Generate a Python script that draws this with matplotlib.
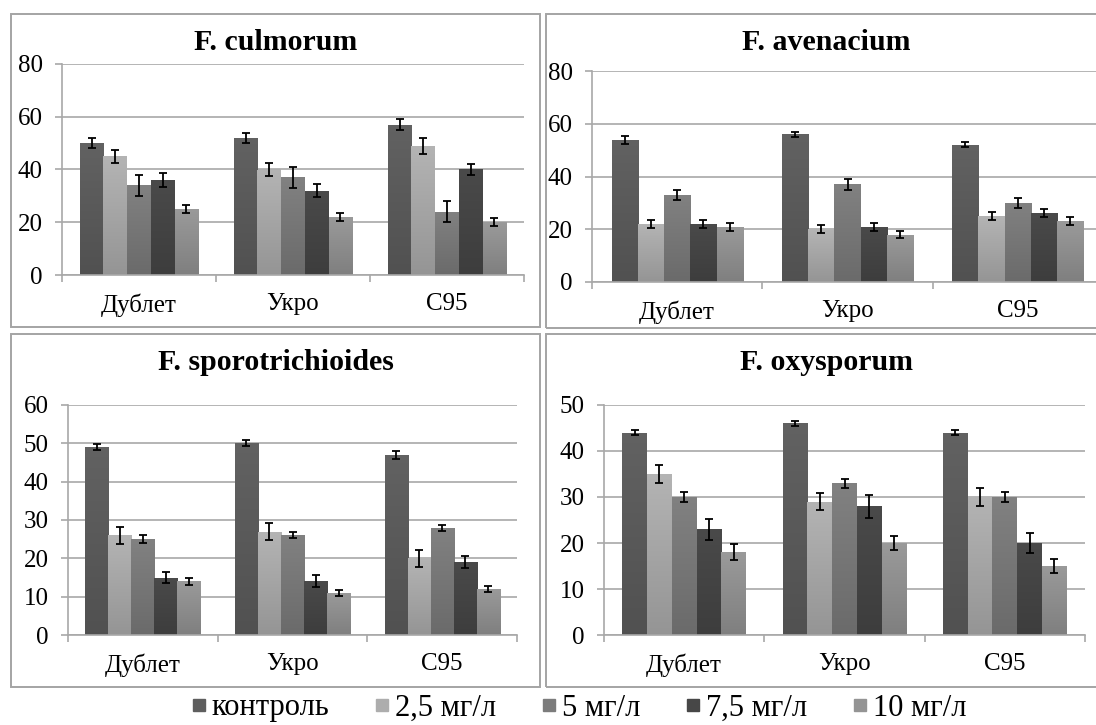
import matplotlib
matplotlib.use("Agg")
import matplotlib.pyplot as plt
import numpy as np
from matplotlib.lines import Line2D
from matplotlib.patches import Rectangle

plt.rcParams["font.family"] = ["Liberation Serif", "DejaVu Serif"]

# ---- data -------------------------------------------------------------
varieties = ["Дублет", "Укро", "С95"]
doses = ["контроль", "2,5 мг/л", "5 мг/л", "7,5 мг/л", "10 мг/л"]

culmorum_vals = [[50, 45, 34, 36, 25],
                 [52, 40, 37, 32, 22],
                 [57, 49, 24, 40, 20]]
culmorum_err = [[2.0, 2.5, 4.0, 2.5, 1.5],
                [2.0, 2.5, 4.0, 2.5, 1.5],
                [2.0, 3.0, 4.0, 2.0, 1.5]]

avenacium_vals = [[54, 22, 33, 22, 21],
                  [56, 20, 37, 21, 18],
                  [52, 25, 30, 26, 23]]
avenacium_err = [[1.5, 1.5, 2.0, 1.5, 1.5],
                 [1.0, 1.5, 2.0, 1.5, 1.5],
                 [1.0, 1.5, 2.0, 1.5, 1.5]]

sporo_vals = [[49, 26, 25, 15, 14],
              [50, 27, 26, 14, 11],
              [47, 20, 28, 19, 12]]
sporo_err = [[0.8, 2.3, 1.0, 1.5, 1.0],
             [0.8, 2.3, 0.8, 1.6, 0.8],
             [1.0, 2.3, 0.8, 1.5, 0.8]]

oxy_vals = [[44, 35, 30, 23, 18],
            [46, 29, 33, 28, 20],
            [44, 30, 30, 20, 15]]
oxy_err = [[0.5, 2.0, 1.0, 2.3, 1.7],
           [0.6, 1.9, 1.0, 2.5, 1.6],
           [0.5, 1.9, 1.0, 2.2, 1.5]]

panels = [
    ("F. culmorum", culmorum_vals, culmorum_err, 80, 20),
    ("F. avenacium", avenacium_vals, avenacium_err, 80, 20),
    ("F. sporotrichioides", sporo_vals, sporo_err, 60, 10),
    ("F. oxysporum", oxy_vals, oxy_err, 50, 10),
]

# ---- style ------------------------------------------------------------
colors = ["#5e5e5e", "#adadad", "#7c7c7c", "#474747", "#949494"]
grid_c = "#a8a8a8"
frame_c = "#a4a4a4"

W, H = 1096, 725
fig = plt.figure(figsize=(W / 100, H / 100), dpi=100)

def fr(l, t, r, b):
    return [l / W, 1 - b / H, (r - l) / W, (b - t) / H]

# panel frames (pixel boxes) and axes boxes
frames = [(11, 14, 540, 327), (546, 14, 1106, 328),
          (11, 334, 540, 687), (546, 334, 1106, 687)]
axboxes = [(62, 64, 524, 275), (592, 71, 1103, 282),
           (68, 405, 517, 635), (604, 405, 1085, 635)]
title_y = [43, 42, 363, 363]

for (l, t, r, b) in frames:
    fig.patches.append(Rectangle((l / W, 1 - b / H), (r - l) / W, (b - t) / H,
                                 transform=fig.transFigure, fill=False,
                                 edgecolor=frame_c, linewidth=1.4, zorder=0))

n = len(doses)
group_w = 0.77
bw = group_w / n

def shade(ax, bars, color):
    """Soft vertical gradient inside each bar: lighter top, darker base."""
    rgb = np.array(matplotlib.colors.to_rgb(color))
    ramp = np.linspace(0.86, 1.04, 64)[:, None, None]
    img = np.clip(rgb[None, None, :] * ramp, 0, 1)
    for b in bars:
        x0, y0 = b.get_x(), b.get_y()
        im = ax.imshow(img, extent=(x0, x0 + b.get_width(), y0, y0 + b.get_height()),
                       origin="lower", aspect="auto", zorder=2.1,
                       interpolation="bilinear")
        im.set_clip_path(b)

for k, (name, vals, errs, ymax, step) in enumerate(panels):
    ax = fig.add_axes(fr(*axboxes[k]))
    vals = np.array(vals, dtype=float)
    errs = np.array(errs, dtype=float)
    centers = np.arange(len(varieties)) + 0.5
    for j in range(n):
        x = centers - group_w / 2 + bw * (j + 0.5)
        bars = ax.bar(x, vals[:, j], width=bw, color=colors[j], zorder=2,
                      linewidth=0)
        shade(ax, bars, colors[j])
        ax.errorbar(x, vals[:, j], yerr=errs[:, j], fmt="none",
                    ecolor="black", elinewidth=1.3, capsize=3.2,
                    capthick=1.3, zorder=3)
    ax.set_xlim(0, len(varieties))
    ax.set_ylim(0, ymax)
    ax.set_yticks(np.arange(0, ymax + 1, step))
    ax.yaxis.grid(True, color=grid_c, linewidth=1.2, zorder=0)
    ax.set_axisbelow(True)
    for s in ("top", "right"):
        ax.spines[s].set_visible(False)
    for s in ("left", "bottom"):
        ax.spines[s].set_color(grid_c)
        ax.spines[s].set_linewidth(1.2)
    ax.set_xticks(np.arange(len(varieties) + 1))
    ax.set_xticklabels([])
    ax.set_xticks(centers, minor=True)
    ax.set_xticklabels(varieties, minor=True, fontsize=18)
    ax.tick_params(axis="x", which="major", length=5, width=1.2,
                   color=grid_c, direction="out")
    ax.tick_params(axis="x", which="minor", length=0, pad=13)
    ax.tick_params(axis="y", length=5, width=1.2, color=grid_c,
                   direction="out", labelsize=18, pad=9)
    fl, ft, frr, fb = frames[k]
    fig.text(((fl + frr) / 2) / W, 1 - title_y[k] / H, name,
             ha="center", va="center", fontsize=21.5, fontweight="bold")

handles = [Line2D([], [], marker="s", linestyle="none", markersize=9,
                  markerfacecolor=c, markeredgecolor=c) for c in colors]
fig.legend(handles, doses, loc="center", bbox_to_anchor=(577 / W, 1 - 708 / H),
           ncol=5, frameon=False, fontsize=22, handletextpad=0.05,
           columnspacing=1.35, handlelength=0.75, borderaxespad=0)

fig.savefig("out.png", dpi=100)
